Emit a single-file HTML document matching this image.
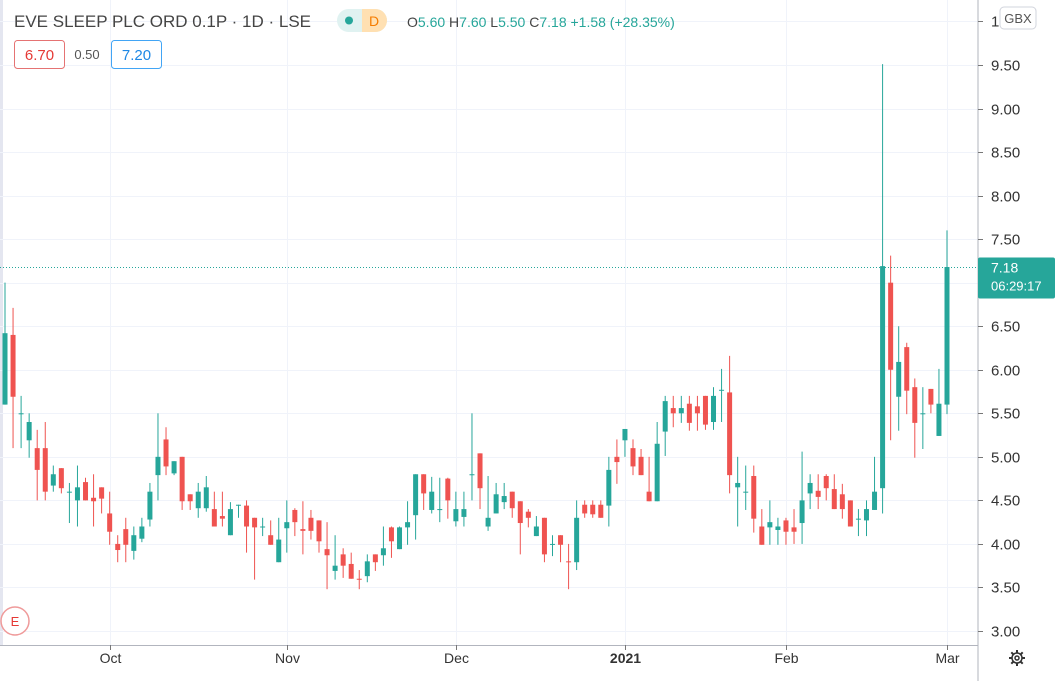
<!DOCTYPE html>
<html><head><meta charset="utf-8"><style>
html,body{margin:0;padding:0;background:#fff;overflow:hidden}
svg{display:block;font-family:"Liberation Sans",sans-serif}
</style></head><body>
<svg id="chart" width="1062" height="681" viewBox="0 0 1062 681" xmlns="http://www.w3.org/2000/svg">
<rect x="0" y="0" width="1062" height="681" fill="#fff"/>
<rect x="0" y="0" width="3" height="645" fill="#e4e6f0"/>
<g id="grid"></g>
<g id="candles"></g>
<line x1="978" y1="0" x2="978" y2="681" stroke="#b2b5be" stroke-width="1"/>
<line x1="0" y1="645.5" x2="978" y2="645.5" stroke="#b2b5be" stroke-width="1"/>
<g id="yaxis"></g>
<g id="xaxis"></g>
<g><rect x="1000" y="7" width="36" height="22" rx="4" fill="#fff" stroke="#d1d4dc"/><text x="1018" y="23" font-size="13" fill="#555" text-anchor="middle">GBX</text></g>
<g id="lastprice"></g>
<g><text x="14" y="27" font-size="17" fill="#444">EVE SLEEP PLC ORD 0.1P · 1D · LSE</text></g>
<g><rect x="337" y="9" width="50" height="23" rx="11.5" fill="#e0f2f1"/><path d="M362 9 h13.5 a11.5 11.5 0 0 1 0 23 h-13.5z" fill="#ffe0b2"/><circle cx="349" cy="20.5" r="4" fill="#26a69a"/><text x="369" y="26" font-size="14" fill="#f57c00">D</text></g>
<g><text x="407" y="27" font-size="14" fill="#26a69a"><tspan fill="#444">O</tspan>5.60 <tspan fill="#444">H</tspan>7.60 <tspan fill="#444">L</tspan>5.50 <tspan fill="#444">C</tspan>7.18 +1.58 (+28.35%)</text></g>
<g><rect x="14.5" y="40.5" width="50" height="28" rx="3" fill="#fff" stroke="#e57373"/><text x="39.5" y="60" font-size="15" fill="#e53935" text-anchor="middle">6.70</text></g>
<text x="87" y="59" font-size="13" fill="#555" text-anchor="middle">0.50</text>
<g><rect x="111.5" y="40.5" width="50" height="28" rx="3" fill="#fff" stroke="#42a5f5"/><text x="136.5" y="60" font-size="15" fill="#1e88e5" text-anchor="middle">7.20</text></g>
<g><circle cx="15" cy="621" r="14" fill="#fff" stroke="#ef9a9a" stroke-width="1.5"/><text x="15" y="626" font-size="13" fill="#e53935" text-anchor="middle">E</text></g>
<g transform="translate(1017,658)" fill="none" stroke="#333" stroke-width="1.5">
<circle r="5"/><circle r="2"/>
<g stroke-width="2"><line x1="0" y1="-5" x2="0" y2="-8"/><line x1="0" y1="5" x2="0" y2="8"/><line x1="-5" y1="0" x2="-8" y2="0"/><line x1="5" y1="0" x2="8" y2="0"/><line x1="3.5" y1="3.5" x2="5.7" y2="5.7"/><line x1="-3.5" y1="-3.5" x2="-5.7" y2="-5.7"/><line x1="3.5" y1="-3.5" x2="5.7" y2="-5.7"/><line x1="-3.5" y1="3.5" x2="-5.7" y2="5.7"/></g></g>
</svg>
<script>
var opens=[5.6,6.4,5.5,5.19,5.1,5.1,4.67,4.87,4.6,4.5,4.71,4.53,4.65,4.35,4.0,4.17,3.92,4.06,4.28,4.79,5.2,4.81,5.0,4.57,4.41,4.41,4.4,4.32,4.1,4.45,4.44,4.3,4.2,4.1,3.79,4.18,4.39,4.17,4.3,4.27,3.94,3.69,3.88,3.77,3.6,3.63,3.88,3.87,4.19,3.94,4.19,4.33,4.8,4.39,4.4,4.75,4.26,4.31,4.8,5.04,4.2,4.35,4.48,4.6,4.49,4.37,4.09,4.3,4.0,4.1,3.8,3.79,4.45,4.45,4.45,4.44,5.0,5.19,5.1,5.0,4.6,4.49,5.29,5.56,5.5,5.61,5.58,5.7,5.4,5.77,5.74,4.65,4.6,4.78,4.2,4.19,4.16,4.27,4.19,4.24,4.58,4.61,4.78,4.63,4.57,4.5,4.29,4.27,4.39,4.64,7.0,5.69,6.26,5.8,5.5,5.78,5.24,5.6];
var highs=[7.0,6.71,5.7,5.5,5.31,5.4,4.9,4.87,4.7,4.9,4.76,4.8,4.65,4.6,4.1,4.3,4.2,4.3,4.7,5.5,5.34,4.95,5.0,4.57,4.7,4.78,4.6,4.6,4.48,4.45,4.5,4.3,4.3,4.27,4.3,4.5,4.41,4.49,4.39,4.27,4.25,4.1,3.95,3.9,3.7,3.88,3.88,4.2,4.2,4.2,4.49,4.8,4.8,4.77,4.76,4.76,4.6,4.6,5.5,5.04,4.78,4.7,4.7,4.6,4.49,4.4,4.32,4.3,4.1,4.1,4.0,4.5,4.5,4.5,4.5,5.0,5.2,5.32,5.2,5.09,5.0,5.4,5.7,5.7,5.7,5.7,5.7,5.7,5.8,6.01,6.16,5.0,4.9,4.9,4.4,4.5,4.3,4.3,4.4,5.06,4.8,4.8,4.8,4.8,4.69,4.5,4.4,4.5,5.0,9.51,7.31,6.5,6.31,5.9,5.8,5.78,6.01,7.6];
var lows=[5.6,5.1,5.1,4.99,4.5,4.5,4.6,4.58,4.24,4.2,4.5,4.2,4.35,3.99,3.79,3.79,3.82,4.02,4.2,4.5,4.79,4.79,4.39,4.39,4.3,4.37,4.2,4.2,4.1,4.3,3.9,3.59,4.09,3.99,3.79,3.9,4.09,3.88,4.05,3.9,3.48,3.59,3.61,3.6,3.48,3.56,3.69,3.75,3.84,3.94,3.99,4.05,4.39,4.35,4.25,4.29,4.2,4.2,4.5,4.4,4.15,4.35,4.4,4.3,3.88,4.19,4.09,3.79,3.86,3.79,3.48,3.7,4.3,4.3,4.3,4.2,4.69,5.0,4.79,4.79,4.49,4.49,5.01,5.34,5.39,5.3,5.3,5.31,5.31,5.4,4.58,4.2,4.39,4.13,3.99,3.99,3.99,3.99,4.0,4.0,4.4,4.4,4.5,4.4,4.29,4.2,4.09,4.09,4.39,4.35,5.19,5.3,5.49,4.99,5.09,5.5,5.24,5.49];
var closes=[6.42,5.69,5.5,5.4,4.85,4.6,4.8,4.64,4.6,4.65,4.5,4.49,4.52,4.14,3.93,3.99,4.1,4.2,4.6,5.0,4.89,4.95,4.49,4.49,4.6,4.65,4.2,4.29,4.4,4.45,4.2,4.19,4.2,3.99,4.05,4.25,4.25,4.15,4.15,4.03,3.87,3.75,3.75,3.6,3.599,3.8,3.79,3.95,4.03,4.19,4.25,4.8,4.58,4.6,4.4,4.5,4.4,4.4,4.8,4.64,4.3,4.57,4.55,4.41,4.24,4.3,4.2,3.88,4.0,3.99,3.799,4.3,4.35,4.34,4.3,4.85,4.94,5.32,4.89,4.79,4.49,5.15,5.64,5.5,5.56,5.39,5.5,5.37,5.7,5.77,4.79,4.7,4.6,4.29,3.99,4.25,4.2,4.14,4.14,4.5,4.7,4.54,4.64,4.4,4.4,4.2,4.29,4.4,4.6,7.19,6.0,6.09,5.76,5.39,5.5,5.6,5.61,7.18];
var yTicks=[3.0,3.5,4.0,4.5,5.0,5.5,6.0,6.5,7.0,7.5,8.0,8.5,9.0,9.5];
var xTickIdx=[13,35,56,77,97,117];
var xTickLabels=["Oct","Nov","Dec","2021","Feb","Mar"];
var lastPrice=7.18;

var NS="http://www.w3.org/2000/svg";
function yScale(v){return 631-(v-3)*87.08;}
function xScale(i){return 5+i*(942/117);}
function mk(tag,attrs,parent){var e=document.createElementNS(NS,tag);for(var k in attrs)e.setAttribute(k,attrs[k]);parent.appendChild(e);return e;}
var grid=document.getElementById('grid'),yax=document.getElementById('yaxis'),xax=document.getElementById('xaxis'),cg=document.getElementById('candles');
var allY=yTicks.concat([10]);
allY.forEach(function(v){
  var y=Math.round(yScale(v))+0.5;
  var g=mk('line',{x1:0,x2:978,y1:y,y2:y,stroke:'#f0f3fa'},grid);
  
  
  var t=mk('line',{x1:978,x2:983,y1:y,y2:y,stroke:'#777'},yax);
  
  
  var lb=mk('text',{x:991,y:y+5,'font-size':15,fill:'#333'},yax);
  lb.textContent=v===10?'1':v.toFixed(2);
  
  
});
xTickIdx.forEach(function(idx,k){
  var x=Math.round(xScale(idx))+0.5;
  var g=mk('line',{x1:x,x2:x,y1:0,y2:645,stroke:'#f0f3fa'},grid);
  
  
  var t=mk('line',{x1:x,x2:x,y1:645,y2:650,stroke:'#777'},xax);
  
  
  var lb=mk('text',{x:x,y:663,'font-size':14,fill:'#333','text-anchor':'middle','font-weight':xTickLabels[k]==='2021'?'bold':'normal'},xax);
  lb.textContent=xTickLabels[k];
  
  
});
for(var i=0;i<opens.length;i++){
  var o=opens[i],c=closes[i],col=c>=o?'#26a69a':'#ef5350';
  var cx=xScale(i),g=mk('g',{},cg);
  
  
  mk('line',{x1:cx,x2:cx,y1:yScale(highs[i]),y2:yScale(lows[i]),stroke:col,'stroke-width':1},g);
  var bodyTop=yScale(Math.max(o,c)),bodyBot=yScale(Math.min(o,c));
  mk('rect',{x:cx-2.5,y:bodyTop,width:5,height:Math.max(1,bodyBot-bodyTop),fill:col},g);
}
var lp=document.getElementById('lastprice');
var ly=Math.round(yScale(lastPrice))+0.5;
var dl=mk('line',{x1:0,x2:978,y1:ly,y2:ly,stroke:'#26a69a','stroke-dasharray':'1,2'},lp);


mk('rect',{x:978,y:ly-10,width:77,height:41,rx:2,fill:'#26a69a'},lp);
var t1=mk('text',{x:991,y:ly+5,'font-size':14,fill:'#fff'},lp);t1.textContent=lastPrice.toFixed(2);
var t2=mk('text',{x:991,y:ly+23,'font-size':13,fill:'#fff'},lp);t2.textContent='06:29:17';
</script>
</body></html>
